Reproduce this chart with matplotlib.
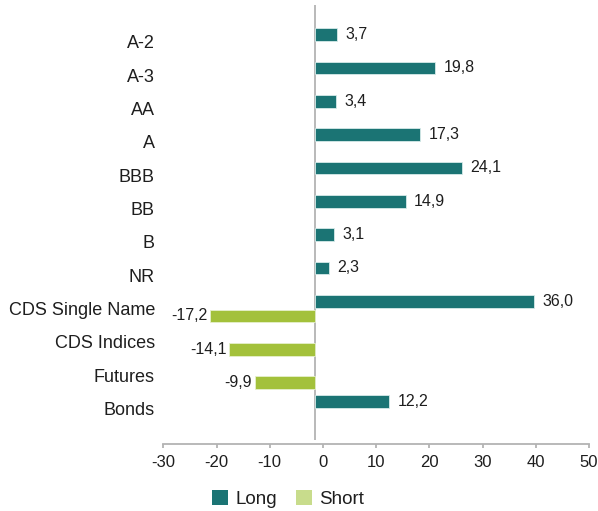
import numpy as np
import matplotlib.pyplot as plt
from matplotlib.patches import Patch

plt.rcParams['font.family'] = ['Liberation Sans', 'DejaVu Sans']

categories = ['A-2', 'A-3', 'AA', 'A', 'BBB', 'BB', 'B', 'NR',
              'CDS Single Name', 'CDS Indices', 'Futures', 'Bonds']
long_vals = [3.7, 19.8, 3.4, 17.3, 24.1, 14.9, 3.1, 2.3, 36.0, None, None, 12.2]
short_vals = [None, None, None, None, None, None, None, None, -17.2, -14.1, -9.9, None]
tick_vals = [-30, -20, -10, 0, 10, 20, 30, 40, 50]

long_color = '#1b7474'
short_color = '#a3c13b'
short_legend_color = '#c8dc8c'
text_color = '#1e1e1e'
axis_grey = '#b3b3b3'

W, H = 598, 511
fig = plt.figure(figsize=(W / 100, H / 100), dpi=100)

# bar area (pixel geometry)
x0_px, x1_px = 163.3, 589.0
y_top_px, y_bot_px = 5.0, 440.0
zero_px, px_per_unit = 315.0, 6.08
ax = fig.add_axes([x0_px / W, 1 - y_bot_px / H, (x1_px - x0_px) / W, (y_bot_px - y_top_px) / H])

y = np.arange(len(categories))
off, h = 0.22, 0.38

ly = [yy - off for yy, v in zip(y, long_vals) if v is not None]
lv = [v for v in long_vals if v is not None]
sy = [yy + off for yy, v in zip(y, short_vals) if v is not None]
sv = [v for v in short_vals if v is not None]

lb = ax.barh(ly, lv, height=h, color=long_color, edgecolor='#d7ebe9', linewidth=0.6)
sb = ax.barh(sy, sv, height=h, color=short_color, edgecolor='#e6f0cc', linewidth=0.6)

fmt = lambda v: ('%.1f' % v).replace('.', ',')
ax.bar_label(lb, labels=[fmt(v) for v in lv], padding=6, fontsize=11.5, color=text_color)
ax.bar_label(sb, labels=[fmt(v) for v in sv], padding=2, fontsize=11.5, color=text_color)

ax.axvline(0, color=axis_grey, linewidth=1.3, zorder=0)

ax.set_xlim(-(zero_px - x0_px) / px_per_unit, (x1_px - zero_px) / px_per_unit)
spacing = 33.33
ax.set_ylim((y_bot_px - 42) / spacing, (y_top_px - 42) / spacing)
ax.set_yticks(y)
ax.set_yticklabels(categories, fontsize=13, color=text_color)
ax.tick_params(axis='y', length=0, pad=6)
ax.set_xticks([])
for s in ax.spines.values():
    s.set_visible(False)
ax.patch.set_alpha(0)

# value axis
ax2 = fig.add_axes([x0_px / W, 1 - 444 / H, (x1_px - x0_px) / W, 0.0001])
ax2.set_xlim(tick_vals[0], tick_vals[-1])
ax2.set_xticks(tick_vals)
ax2.set_xticklabels([str(t) for t in tick_vals], fontsize=12, color=text_color)
ax2.set_yticks([])
for k in ['top', 'left', 'right']:
    ax2.spines[k].set_visible(False)
ax2.spines['bottom'].set_color(axis_grey)
ax2.spines['bottom'].set_linewidth(1.3)
ax2.tick_params(axis='x', direction='out', length=3, width=1.3, color=axis_grey, pad=5)
ax2.patch.set_alpha(0)

handles = [Patch(facecolor=long_color, label='Long'),
           Patch(facecolor=short_legend_color, label='Short')]
fig.legend(handles=handles, loc='center', bbox_to_anchor=(288 / W, 1 - 499 / H),
           ncol=2, frameon=False, fontsize=13.5, handlelength=0.85, handleheight=0.8,
           handletextpad=0.4, columnspacing=1.0, labelcolor=text_color)

fig.savefig('out.png', dpi=100)
